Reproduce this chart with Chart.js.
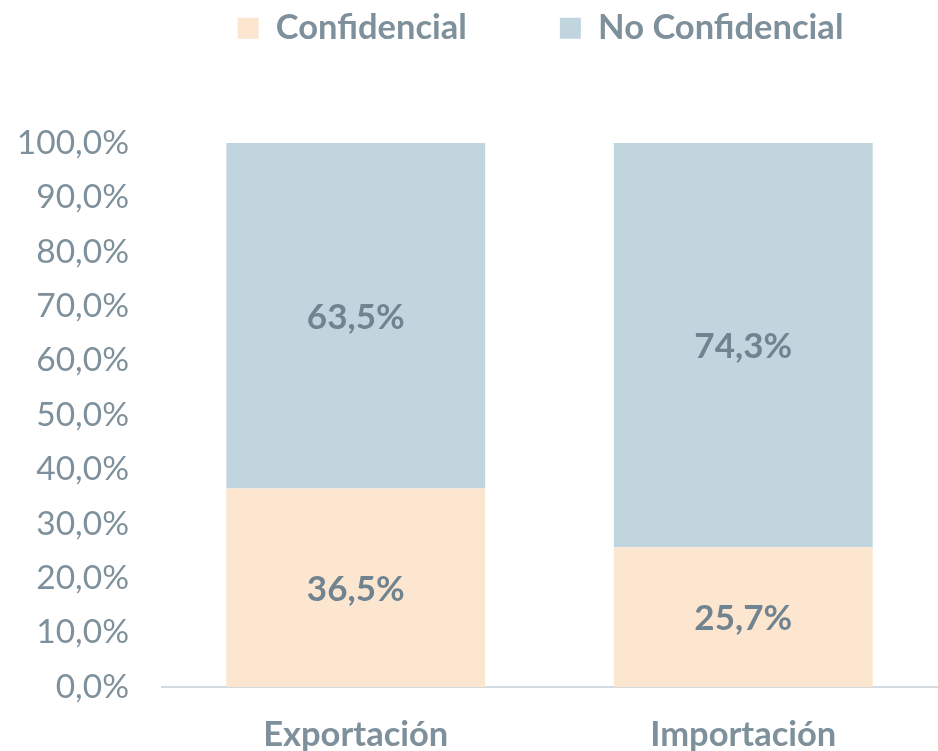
<!DOCTYPE html>
<html>
<head>
<meta charset="utf-8">
<script src="https://cdn.jsdelivr.net/npm/chart.js@4"></script>
<style>
html,body{margin:0;padding:0;background:#fff;}
#wrap{width:938px;height:751px;}
</style>
</head>
<body>
<div id="wrap"><canvas id="c" width="938" height="751"></canvas></div>
<script>
const categories = ['Exportación', 'Importación'];
const confidencial = [36.5, 25.7];
const noConfidencial = [63.5, 74.3];
const seriesNames = ['Confidencial', 'No Confidencial'];
const yTicks = [0, 10, 20, 30, 40, 50, 60, 70, 80, 90, 100];

const FONT = 'Lato, "Open Sans", sans-serif';
const tickColor = '#7e909b';
const boldColor = '#6f8390';

const fmt = v => v.toFixed(1).replace('.', ',') + '%';

const legendMargin = {
  id: 'legendMargin',
  beforeInit(chart) {
    const orig = chart.legend.fit;
    chart.legend.fit = function () {
      orig.bind(chart.legend)();
      this.height = 143;
    };
  },
  afterLayout(chart) {
    const lg = chart.legend;
    lg.top -= 82; lg.bottom -= 82;
    lg.left += 72; lg.right += 72;
  }
};

const dataLabels = {
  id: 'dataLabels',
  afterDatasetsDraw(chart) {
    const ctx = chart.ctx;
    ctx.save();
    ctx.font = 'bold 35px ' + FONT;
    ctx.fillStyle = boldColor;
    ctx.textAlign = 'center';
    ctx.textBaseline = 'middle';
    chart.data.datasets.forEach((ds, i) => {
      const meta = chart.getDatasetMeta(i);
      meta.data.forEach((el, j) => {
        const y = (el.y + el.base) / 2 + 2;
        ctx.fillText(fmt(ds.data[j]), el.x, y);
      });
    });
    ctx.restore();
  }
};

new Chart(document.getElementById('c'), {
  type: 'bar',
  data: {
    labels: categories,
    datasets: [
      { label: seriesNames[0], data: confidencial, backgroundColor: '#fce6d0', borderWidth: 0 },
      { label: seriesNames[1], data: noConfidencial, backgroundColor: '#c1d5de', borderWidth: 0 }
    ]
  },
  options: {
    responsive: false,
    animation: false,
    layout: { padding: { left: 0, right: 1, top: 0, bottom: 0 } },
    plugins: {
      legend: {
        position: 'top',
        fullSize: true,
        labels: {
          boxWidth: 21,
          boxHeight: 21,
          padding: 93,
          color: tickColor,
          font: { family: FONT, size: 34.5, weight: 'bold' }
        }
      },
      tooltip: { enabled: false }
    },
    scales: {
      x: {
        stacked: true,
        grid: { display: false },
        border: { display: true, color: '#d3dbe0', width: 2 },
        afterFit(axis) { axis.height = 64; },
        ticks: {
          color: tickColor,
          padding: 23,
          font: { family: FONT, size: 34.5, weight: 'bold', lineHeight: 1.0 }
        }
      },
      y: {
        stacked: true,
        min: 0,
        max: 100,
        afterBuildTicks(axis) { axis.ticks = yTicks.map(v => ({ value: v })); },
        afterFit(axis) { axis.width = 162; },
        grid: { display: false },
        border: { display: false },
        ticks: {
          color: tickColor,
          padding: 25,
          font: { family: FONT, size: 33.5 },
          callback: v => fmt(v)
        }
      }
    },
    datasets: { bar: { barPercentage: 0.668, categoryPercentage: 1 } }
  },
  plugins: [legendMargin, dataLabels]
});
</script>
</body>
</html>
